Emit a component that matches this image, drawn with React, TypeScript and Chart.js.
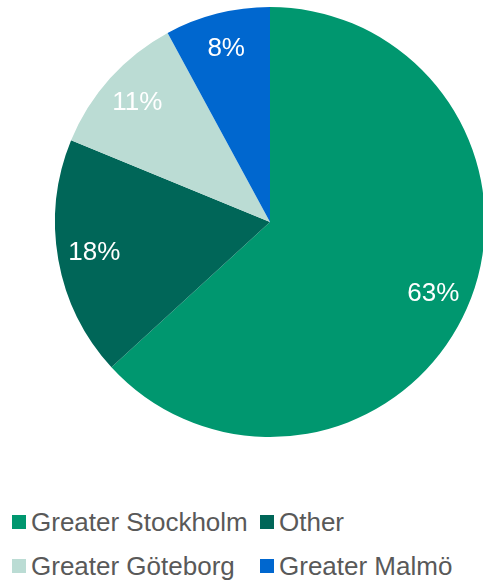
import React, { useEffect, useRef } from "react";
import { Chart, registerables } from "chart.js";

Chart.register(...registerables);

const categories = ["Greater Stockholm", "Other", "Greater Göteborg", "Greater Malmö"];
const shares = [63.2, 18.0, 10.9, 7.9];
const colors = ["#00976F", "#006658", "#BBDCD4", "#0067CF"];
const legendOrder = [
  [0, 1],
  [2, 3],
];

const FONT = "'Liberation Sans', Arial, Helvetica, sans-serif";

const labelPlugin = {
  id: "sliceLabels",
  afterDatasetsDraw(chart: any) {
    const ctx = chart.ctx;
    const meta = chart.getDatasetMeta(0);
    const data = chart.data.datasets[0].data as number[];
    const total = data.reduce((a, b) => a + b, 0);
    ctx.save();
    ctx.fillStyle = "#FFFFFF";
    ctx.font = `26px ${FONT}`;
    ctx.textAlign = "center";
    ctx.textBaseline = "middle";
    meta.data.forEach((arc: any, i: number) => {
      const p = arc.getProps(["x", "y", "startAngle", "endAngle", "outerRadius"], true);
      const mid = (p.startAngle + p.endAngle) / 2;
      const r = p.outerRadius * 0.83;
      const x = p.x + Math.cos(mid) * r;
      const y = p.y + Math.sin(mid) * r;
      ctx.fillText(`${Math.round((data[i] / total) * 100)}%`, x, y);
    });
    ctx.restore();
  },
};

export default function App() {
  const ref = useRef<HTMLCanvasElement | null>(null);
  useEffect(() => {
    if (!ref.current) return;
    const chart = new Chart(ref.current, {
      type: "pie",
      data: {
        labels: categories,
        datasets: [
          {
            data: shares,
            backgroundColor: colors,
            borderWidth: 0,
          },
        ],
      },
      options: {
        responsive: false,
        animation: false,
        devicePixelRatio: 1,
        layout: { padding: { left: 55, right: 5, top: 7, bottom: 13 } },
        plugins: {
          legend: { display: false },
          tooltip: { enabled: false },
        },
      },
      plugins: [labelPlugin],
    });
    return () => chart.destroy();
  }, []);

  return (
    <div
      style={{
        position: "absolute",
        left: 0,
        top: 0,
        width: 483,
        height: 580,
        overflow: "hidden",
        background: "#FFFFFF",
      }}
    >
      <canvas ref={ref} width={490} height={450} style={{ display: "block", width: 490, height: 450 }} />
      {legendOrder.map((row, ri) => (
        <div
          key={ri}
          style={{
            position: "absolute",
            left: 12,
            top: 499 + ri * 44.5,
            height: 45,
            display: "flex",
            alignItems: "center",
          }}
        >
          {row.map((idx, ci) => (
            <div
              key={idx}
              style={{
                display: "flex",
                alignItems: "center",
                width: ci === 0 ? 248 : "auto",
              }}
            >
              <span
                style={{
                  display: "inline-block",
                  width: 14,
                  height: 14,
                  background: colors[idx],
                  marginRight: 5,
                  flex: "none",
                }}
              />
              <span
                style={{
                  fontFamily: FONT,
                  fontSize: 26,
                  color: "#595959",
                  whiteSpace: "nowrap",
                  lineHeight: "30px",
                }}
              >
                {categories[idx]}
              </span>
            </div>
          ))}
        </div>
      ))}
    </div>
  );
}
